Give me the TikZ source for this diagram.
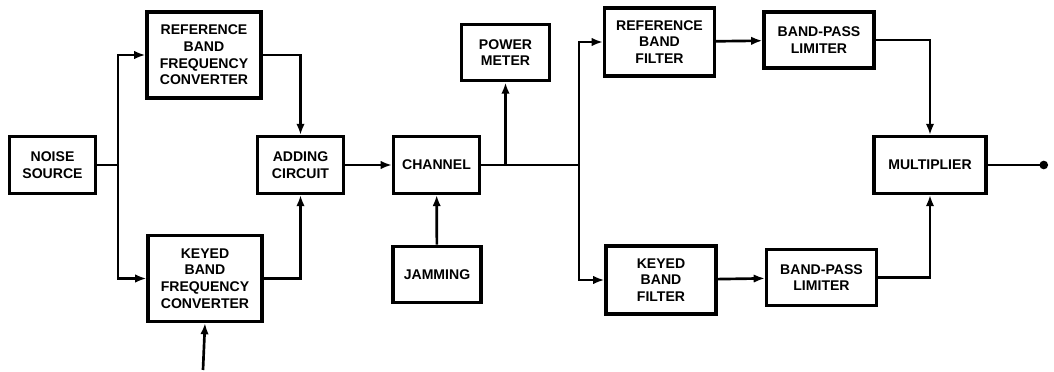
\documentclass[tikz,border=0pt]{standalone}
\usepackage{fontspec}
\setmainfont{Liberation Sans}
\usetikzlibrary{arrows.meta}

\tikzset{
  blk/.style={draw, line width=2.2pt, inner sep=1pt, align=center,
    minimum width=2.15cm, minimum height=1.42cm,
    font=\fontsize{10}{11.8}\selectfont\bfseries},
  conv/.style={blk, minimum width=2.85cm, minimum height=2.15cm},
  filt/.style={blk, minimum width=2.75cm, minimum height=1.7cm},
  lim/.style={blk, minimum width=2.75cm, minimum height=1.4cm},
}

\begin{document}
\begin{tikzpicture}[x=0.025cm, y=-0.025cm, line width=1.9pt, >={Latex[length=8pt,width=6pt]}]
\useasboundingbox (0,0) rectangle (1054,372);

\node[blk] (ns) at (52.5,165) {NOISE\\SOURCE};
\node[conv] (rc) at (204,55) {REFERENCE\\BAND\\FREQUENCY\\CONVERTER};
\node[conv] (kc) at (205,278.5) {KEYED\\BAND\\FREQUENCY\\CONVERTER};
\node[blk] (ad) at (300.5,165) {ADDING\\CIRCUIT};
\node[blk] (ch) at (436.5,165) {CHANNEL};
\node[blk, minimum width=2.2cm] (jm) at (437,274.5) {JAMMING};
\node[blk, minimum width=2.18cm] (pm) at (505.5,52.5) {POWER\\METER};
\node[filt] (rf) at (659.5,42) {REFERENCE\\BAND\\FILTER};
\node[filt] (kf) at (661,280) {KEYED\\BAND\\FILTER};
\node[lim] (l1) at (819,40) {BAND-PASS\\LIMITER};
\node[lim] (l2) at (821.5,277.5) {BAND-PASS\\LIMITER};
\node[blk, minimum width=2.8cm] (mu) at (930,165) {MULTIPLIER};

\coordinate (s1) at (118,165);
\coordinate (s2) at (579,165);
\coordinate (pb) at (505.5,165);
\coordinate (kin) at (203,370);
\coordinate (out) at (1048,165);

\draw (ns) -- (s1);
\draw[->] (s1) |- (rc);
\draw[->] (s1) |- (kc);
\draw[->] (rc.east) -| (ad.north);
\draw[->] (kc.east) -| (ad.south);
\draw[->] (kin) -- (kc.south);
\draw[->] (ad) -- (ch);
\draw[->] (jm) -- (ch);
\draw (ch) -- (s2);
\draw[->] (pb) -- (pm);
\draw[->] (s2) |- (rf);
\draw[->] (s2) |- (kf);
\draw[->] (rf) -- (l1);
\draw[->] (kf) -- (l2);
\draw[->] (l1.east) -| (mu.north);
\draw[->] (l2.east) -| (mu.south);
\draw[-{Circle[length=6pt]}] (mu) -- (out);
\end{tikzpicture}
\end{document}
